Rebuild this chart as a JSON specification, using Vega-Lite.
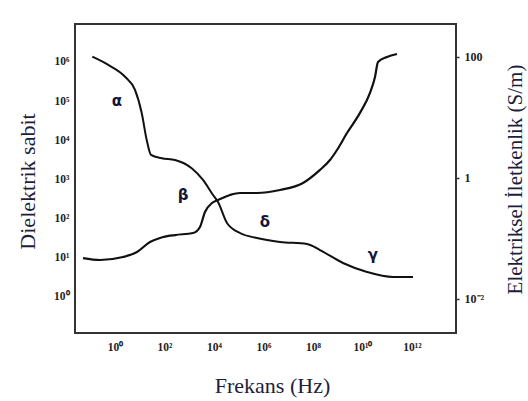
{
  "$schema": "https://vega.github.io/schema/vega-lite/v6.json",
  "width": 381,
  "height": 309,
  "autosize": {"type": "none"},
  "padding": {"left": 75, "top": 24, "right": 72, "bottom": 68},
  "background": "white",
  "config": {
    "view": {"stroke": "#333333", "strokeWidth": 2},
    "axis": {"grid": false, "domain": false, "ticks": false, "labelFont": "Liberation Serif", "labelColor": "#222222", "titleFont": "Liberation Serif", "titleFontWeight": "normal", "titleColor": "#1e1e3c"}
  },
  "datasets": {
    "dielectric": [
      {"freq": 0.121, "eps": 1360000},
      {"freq": 0.536, "eps": 840000},
      {"freq": 2.54, "eps": 420000},
      {"freq": 6.43, "eps": 193000},
      {"freq": 12, "eps": 49800},
      {"freq": 19.1, "eps": 10200},
      {"freq": 28.5, "eps": 4220},
      {"freq": 77, "eps": 3475},
      {"freq": 265, "eps": 3145},
      {"freq": 1256, "eps": 1932},
      {"freq": 3597, "eps": 970},
      {"freq": 9120, "eps": 402},
      {"freq": 14520, "eps": 266},
      {"freq": 33500, "eps": 77.5},
      {"freq": 112000, "eps": 43},
      {"freq": 546000, "eps": 32},
      {"freq": 4640000, "eps": 25.4},
      {"freq": 57200000, "eps": 22.5},
      {"freq": 192000000, "eps": 15.8},
      {"freq": 1630000000, "eps": 7.38},
      {"freq": 15200000000, "eps": 4.35},
      {"freq": 171000000000, "eps": 3.24},
      {"freq": 1100000000000, "eps": 3.24}
    ],
    "conductivity": [
      {"freq": 0.0509, "sigma": 0.0475},
      {"freq": 0.248, "sigma": 0.0441},
      {"freq": 2.1, "sigma": 0.0494},
      {"freq": 7.74, "sigma": 0.0598},
      {"freq": 25.9, "sigma": 0.0874},
      {"freq": 65.8, "sigma": 0.102},
      {"freq": 265, "sigma": 0.114},
      {"freq": 1419, "sigma": 0.123},
      {"freq": 2716, "sigma": 0.155},
      {"freq": 4325, "sigma": 0.274},
      {"freq": 8300, "sigma": 0.386},
      {"freq": 14500, "sigma": 0.432},
      {"freq": 44300, "sigma": 0.523},
      {"freq": 112000, "sigma": 0.565},
      {"freq": 546000, "sigma": 0.565},
      {"freq": 4640000, "sigma": 0.633},
      {"freq": 39400000, "sigma": 0.826},
      {"freq": 192000000, "sigma": 1.36},
      {"freq": 486000000, "sigma": 1.98},
      {"freq": 933000000, "sigma": 2.9},
      {"freq": 2360000000, "sigma": 5.53},
      {"freq": 7920000000, "sigma": 11.9},
      {"freq": 20100000000, "sigma": 25.4},
      {"freq": 32000000000, "sigma": 46.7},
      {"freq": 42300000000, "sigma": 82.6},
      {"freq": 97700000000, "sigma": 100},
      {"freq": 248000000000, "sigma": 112}
    ],
    "regions": [
      {"freq": 1.2, "eps": 100000, "label": "α"},
      {"freq": 560, "eps": 400, "label": "β"},
      {"freq": 1150000, "eps": 82, "label": "δ"},
      {"freq": 26000000000, "eps": 12, "label": "γ"}
    ]
  },
  "layer": [
    {
      "data": {"name": "dielectric"},
      "mark": {"type": "line", "color": "#111111", "strokeWidth": 2, "interpolate": "monotone"},
      "encoding": {
        "x": {"field": "freq", "type": "quantitative", "scale": {"type": "log", "domain": [0.0242, 60000000000000], "nice": false},
          "axis": {"title": "Frekans (Hz)", "values": [1, 100, 10000, 1000000, 100000000, 10000000000, 1000000000000], "labelExpr": "['10⁰','10¹','10²','10³','10⁴','10⁵','10⁶','10⁷','10⁸','10⁹','10¹⁰','10¹¹','10¹²'][round(log(datum.value)/LN10)]", "labelFontSize": 11.5, "labelFontWeight": "bold", "labelPadding": 8, "titleFontSize": 22, "titleX": 197, "titleY": 52, "titleBaseline": "middle", "titleAlign": "center"}},
        "y": {"field": "eps", "type": "quantitative", "scale": {"type": "log", "domain": [0.1205, 9300000], "nice": false},
          "axis": {"orient": "left", "title": "Dielektrik sabit", "values": [1, 10, 100, 1000, 10000, 100000, 1000000], "labelExpr": "['10⁰','10¹','10²','10³','10⁴','10⁵','10⁶'][round(log(datum.value)/LN10)]", "labelFontSize": 11.5, "labelFontWeight": "bold", "labelPadding": 6, "titleFontSize": 22, "titleAngle": 270, "titleX": -48, "titleY": 157, "titleBaseline": "middle", "titleAlign": "center"}}
      }
    },
    {
      "data": {"name": "regions"},
      "mark": {"type": "text", "font": "DejaVu Sans", "fontWeight": "bold", "fontSize": 15, "color": "#15153a", "baseline": "middle", "align": "center"},
      "encoding": {
        "x": {"field": "freq", "type": "quantitative", "scale": {"type": "log", "domain": [0.0242, 60000000000000], "nice": false}},
        "y": {"field": "eps", "type": "quantitative", "scale": {"type": "log", "domain": [0.1205, 9300000], "nice": false}, "axis": null},
        "text": {"field": "label"}
      }
    },
    {
      "data": {"name": "conductivity"},
      "mark": {"type": "line", "color": "#111111", "strokeWidth": 2.2, "interpolate": "monotone"},
      "encoding": {
        "x": {"field": "freq", "type": "quantitative", "scale": {"type": "log", "domain": [0.0242, 60000000000000], "nice": false}},
        "y": {"field": "sigma", "type": "quantitative", "scale": {"type": "log", "domain": [0.00274, 350.8], "nice": false},
          "axis": {"orient": "right", "title": "Elektriksel İletkenlik (S/m)", "values": [0.01, 1, 100], "labelExpr": "datum.value > 10 ? '100' : datum.value > 0.5 ? '1' : '10⁻²'", "labelFontSize": 12, "labelFontWeight": "bold", "ticks": true, "tickSize": 3, "tickColor": "#333333", "tickWidth": 1.5, "labelPadding": 5, "titleFontSize": 21, "titleAngle": 270, "titleX": 59, "titleY": 155, "titleBaseline": "middle", "titleAlign": "center"}}
      }
    }
  ],
  "resolve": {"scale": {"y": "independent"}}
}
